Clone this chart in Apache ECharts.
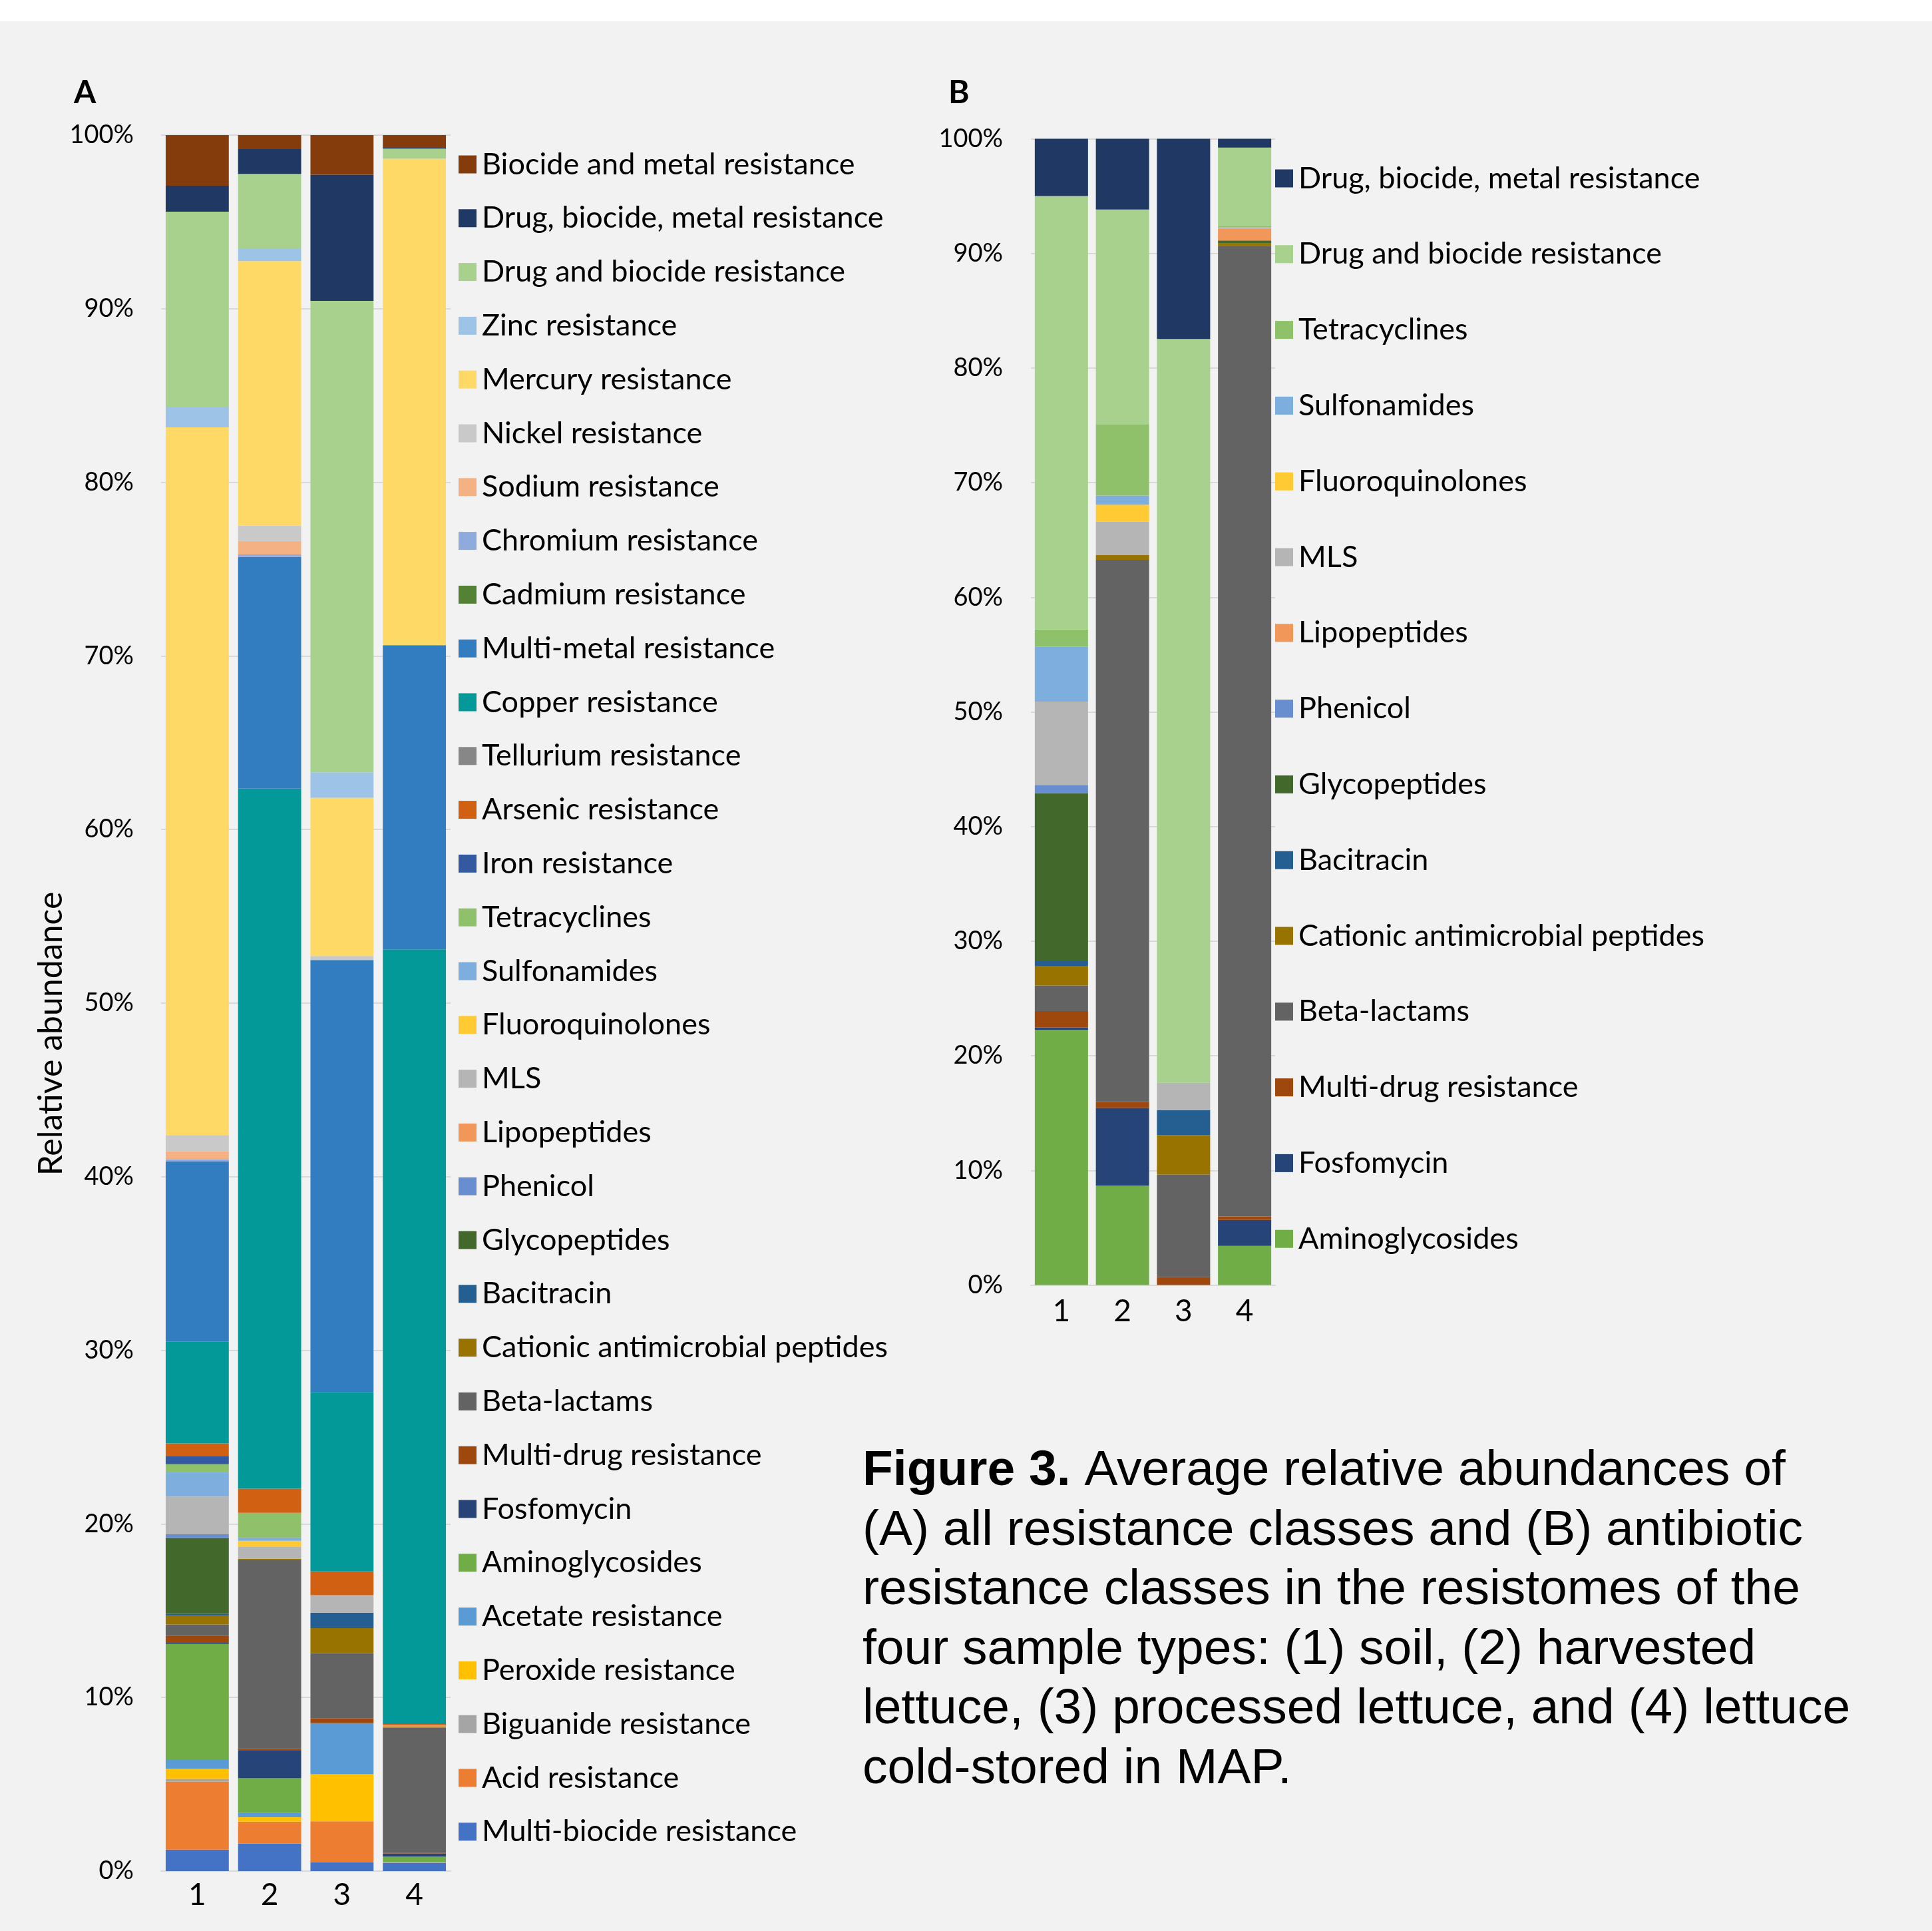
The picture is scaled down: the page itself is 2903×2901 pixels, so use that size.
<!DOCTYPE html>
<html>
<head>
<meta charset="utf-8">
<script src="https://cdn.jsdelivr.net/npm/echarts@6/dist/echarts.min.js"></script>
<style>
  html, body { margin: 0; padding: 0; background: #F2F2F2; }
  #chart { width: 2903px; height: 2901px; }
</style>
</head>
<body>
<div id="chart"></div>
<script>
// Sample types on the x axis
const samples = ['1', '2', '3', '4'];

// Panel A: all resistance classes, listed from the bottom of each stack upward
const classesA = [
  'Multi-biocide resistance', 'Acid resistance', 'Biguanide resistance', 'Peroxide resistance',
  'Acetate resistance', 'Aminoglycosides', 'Fosfomycin', 'Multi-drug resistance', 'Beta-lactams',
  'Cationic antimicrobial peptides', 'Bacitracin', 'Glycopeptides', 'Phenicol', 'Lipopeptides', 'MLS',
  'Fluoroquinolones', 'Sulfonamides', 'Tetracyclines', 'Iron resistance', 'Arsenic resistance',
  'Tellurium resistance', 'Copper resistance', 'Multi-metal resistance', 'Cadmium resistance',
  'Chromium resistance', 'Sodium resistance', 'Nickel resistance', 'Mercury resistance', 'Zinc resistance',
  'Drug and biocide resistance', 'Drug, biocide, metal resistance', 'Biocide and metal resistance'
];
// Relative abundance (%) per class, one array per sample type, same order as classesA
const soilA = [1.24, 3.92, 0.15, 0.58, 0.55, 6.64, 0.07, 0.41, 0.65, 0.50, 0.11, 4.37, 0.21, 0, 2.18,
  0, 1.42, 0.44, 0.45, 0.75, 0, 5.87, 10.38, 0, 0.12, 0.45, 0.94, 40.77, 1.19, 11.23, 1.50, 2.91];
const harvestedA = [1.58, 1.27, 0, 0.26, 0.24, 2.00, 1.59, 0.10, 10.87, 0.08, 0, 0, 0, 0, 0.68,
  0.36, 0.17, 1.44, 0, 1.39, 0, 40.33, 13.34, 0, 0.14, 0.78, 0.88, 15.24, 0.70, 4.33, 1.42, 0.81];
const processedA = [0.52, 2.35, 0, 2.71, 2.94, 0, 0, 0.29, 3.75, 1.44, 0.89, 0, 0, 0, 1.00,
  0, 0, 0, 0, 1.37, 0, 10.34, 24.88, 0, 0, 0, 0.23, 9.12, 1.47, 27.15, 7.27, 2.28];
const coldStoredA = [0.48, 0, 0.05, 0, 0, 0.31, 0.18, 0.04, 7.20, 0.05, 0, 0, 0, 0.10, 0,
  0, 0, 0, 0, 0.06, 0, 44.63, 17.52, 0, 0, 0, 0, 28.02, 0, 0.58, 0.05, 0.73];

// Panel B: antibiotic resistance classes, bottom of each stack upward
const classesB = [
  'Aminoglycosides', 'Fosfomycin', 'Multi-drug resistance', 'Beta-lactams',
  'Cationic antimicrobial peptides', 'Bacitracin', 'Glycopeptides', 'Phenicol', 'Lipopeptides', 'MLS',
  'Fluoroquinolones', 'Sulfonamides', 'Tetracyclines', 'Drug and biocide resistance',
  'Drug, biocide, metal resistance'
];
const soilB = [22.27, 0.21, 1.42, 2.23, 1.67, 0.45, 14.65, 0.73, 0, 7.27, 0, 4.77, 1.53, 37.80, 5.00];
const harvestedB = [8.66, 6.79, 0.52, 47.30, 0.40, 0, 0, 0, 0, 2.93, 1.47, 0.80, 6.23, 18.73, 6.17];
const processedB = [0, 0, 0.70, 8.94, 3.44, 2.16, 0, 0, 0, 2.40, 0, 0, 0, 64.89, 17.47];
const coldStoredB = [3.41, 2.26, 0.31, 84.69, 0.20, 0, 0.26, 0, 1.04, 0.10, 0, 0, 0.10, 6.86, 0.77];

// Fill colour of each class (shared by both panels)
const classColors = {
  'Biocide and metal resistance': '#843C0C',
  'Drug, biocide, metal resistance': '#203864',
  'Drug and biocide resistance': '#A9D18E',
  'Zinc resistance': '#9DC3E6',
  'Mercury resistance': '#FFD966',
  'Nickel resistance': '#C9C9C9',
  'Sodium resistance': '#F4B183',
  'Chromium resistance': '#8FAADC',
  'Cadmium resistance': '#548235',
  'Multi-metal resistance': '#327DC0',
  'Copper resistance': '#039999',
  'Tellurium resistance': '#878787',
  'Arsenic resistance': '#D26013',
  'Iron resistance': '#3559A0',
  'Tetracyclines': '#8FC06A',
  'Sulfonamides': '#7EAEDD',
  'Fluoroquinolones': '#FFCA33',
  'MLS': '#B5B5B5',
  'Lipopeptides': '#F1975A',
  'Phenicol': '#698ED0',
  'Glycopeptides': '#43682B',
  'Bacitracin': '#255E91',
  'Cationic antimicrobial peptides': '#997300',
  'Beta-lactams': '#636363',
  'Multi-drug resistance': '#9E480E',
  'Fosfomycin': '#264478',
  'Aminoglycosides': '#70AD47',
  'Acetate resistance': '#5B9BD5',
  'Peroxide resistance': '#FFC000',
  'Biguanide resistance': '#A5A5A5',
  'Acid resistance': '#ED7D31',
  'Multi-biocide resistance': '#4472C4'
};

const FONT = 'Lato';

function stackSeries(classes, columns, axisIndex, stackId) {
  return classes.map((name, i) => ({
    name: name,
    type: 'bar',
    stack: stackId,
    xAxisIndex: axisIndex,
    yAxisIndex: axisIndex,
    barCategoryGap: '12.8%',
    itemStyle: { color: classColors[name] },
    emphasis: { disabled: true },
    data: columns.map(col => col[i])
  }));
}

function categoryAxis(gridIndex, margin) {
  return {
    type: 'category', gridIndex: gridIndex, data: samples,
    axisLine: { lineStyle: { color: '#D9D9D9', width: 2 } },
    axisTick: { show: false },
    axisLabel: { color: '#000', fontFamily: FONT, fontSize: 46, lineHeight: 46, margin: margin }
  };
}

function percentAxis(gridIndex, margin) {
  return {
    type: 'value', gridIndex: gridIndex, min: 0, max: 100, interval: 10,
    axisLine: { show: false }, axisTick: { show: false },
    splitLine: { lineStyle: { color: '#D9D9D9', width: 2 } },
    axisLabel: { color: '#000', fontFamily: FONT, fontSize: 38, margin: margin, formatter: '{value}%' }
  };
}

const legendText = { color: '#000', fontFamily: FONT, fontSize: 45, lineHeight: 50, padding: [0, 0, 0, 3] };

const caption = [
  '{b|Figure 3.} Average relative abundances of',
  '(A) all resistance classes and (B) antibiotic',
  'resistance classes in the resistomes of the',
  'four sample types: (1) soil, (2) harvested',
  'lettuce, (3) processed lettuce, and (4) lettuce',
  'cold-stored in MAP.'
].join('\n');

const chart = echarts.init(document.getElementById('chart'), null, { renderer: 'canvas' });
chart.setOption({
  animation: false,
  backgroundColor: '#F2F2F2',
  textStyle: { fontFamily: FONT },
  grid: [
    { left: 242, top: 203, width: 435, height: 2608, containLabel: false },
    { left: 1549, top: 208.5, width: 367, height: 1722, containLabel: false }
  ],
  xAxis: [categoryAxis(0, 13), categoryAxis(1, 17)],
  yAxis: [percentAxis(0, 41), percentAxis(1, 42)],
  legend: [
    {
      orient: 'vertical', left: 684, top: 217, itemGap: 30.8,
      itemWidth: 27, itemHeight: 27, icon: 'rect', selectedMode: false,
      textStyle: legendText,
      data: classesA.slice().reverse()
    },
    {
      orient: 'vertical', left: 1911, top: 238, itemGap: 63.8,
      itemWidth: 27, itemHeight: 27, icon: 'rect', selectedMode: false,
      textStyle: legendText,
      data: classesB.slice().reverse()
    }
  ],
  graphic: [
    { type: 'rect', left: 0, top: 0, shape: { width: 2903, height: 32 }, style: { fill: '#FFFFFF' }, silent: true },
    { type: 'text', x: 111, y: 140, style: { text: 'A', font: 'bold 48px Lato', fill: '#000', verticalAlign: 'middle' } },
    { type: 'text', x: 1425, y: 140, style: { text: 'B', font: 'bold 48px Lato', fill: '#000', verticalAlign: 'middle' } },
    {
      type: 'text', x: 77, y: 1553, rotation: Math.PI / 2,
      style: { text: 'Relative abundance', font: '50px Lato', fill: '#000', align: 'center', verticalAlign: 'middle' }
    },
    {
      type: 'text', x: 1296, y: 2166,
      style: {
        text: caption, fill: '#000', fontFamily: 'Liberation Sans', fontSize: 75, lineHeight: 89.5,
        verticalAlign: 'top',
        rich: { b: { fontWeight: 'bold', fontFamily: 'Liberation Sans', fontSize: 75, lineHeight: 89.5 } }
      }
    }
  ],
  series: [
    ...stackSeries(classesA, [soilA, harvestedA, processedA, coldStoredA], 0, 'A'),
    ...stackSeries(classesB, [soilB, harvestedB, processedB, coldStoredB], 1, 'B')
  ]
});
</script>
</body>
</html>
